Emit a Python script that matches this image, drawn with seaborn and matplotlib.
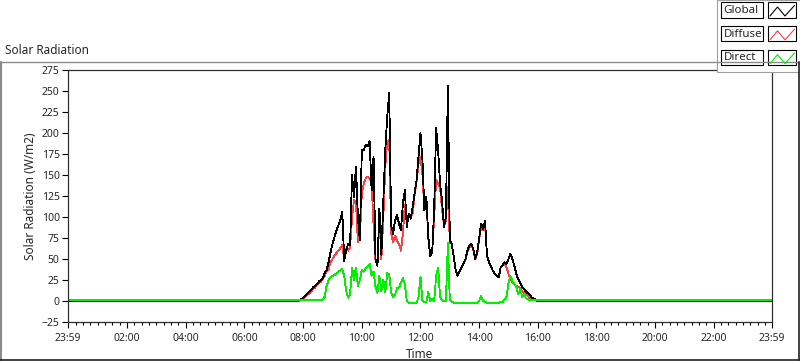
import numpy as np
import pandas as pd
import matplotlib
matplotlib.use("Agg")
import matplotlib.pyplot as plt
from matplotlib.patches import Rectangle
from matplotlib.lines import Line2D
import seaborn as sns

# ---------------- data ----------------
day_start_min = 464          # 07:44
step_min = 4
night_global = 0
night_diffuse = 0
night_direct = 1

global_rad = [0, 0, 1, 2, 4, 6, 8, 11, 13, 16,
              18, 20, 23, 25, 27, 33, 37, 46, 58, 68,
              76, 84, 90, 96, 106, 48, 60, 68, 66, 150,
              124, 160, 100, 72, 180, 180, 186, 184, 190, 132,
              172, 50, 42, 110, 55, 120, 180, 220, 248, 90,
              80, 96, 102, 92, 84, 116, 132, 88, 104, 98,
              112, 128, 144, 172, 200, 168, 108, 124, 76, 53,
              58, 110, 206, 180, 140, 120, 88, 100, 256, 72,
              68, 53, 36, 30, 35, 40, 45, 50, 60, 66,
              68, 62, 50, 58, 75, 92, 86, 95, 55, 46,
              42, 36, 32, 30, 28, 40, 43, 46, 44, 50,
              56, 50, 42, 32, 26, 21, 17, 14, 11, 9,
              7, 4, 3, 1, 0, 0, 0]

diffuse_rad = [0, 0, 0.5, 1, 3, 5, 7, 9, 11, 14,
               16, 19, 21, 23, 26, 30, 35, 38, 46, 50,
               54, 57, 60, 63, 67, 50, 62, 60, 64, 100,
               120, 118, 70, 75, 128, 140, 146, 148, 146, 140,
               90, 48, 45, 100, 50, 100, 160, 190, 192, 80,
               70, 78, 72, 68, 60, 80, 115, 100, 100, 100,
               105, 126, 142, 164, 172, 150, 108, 122, 74, 55,
               60, 100, 144, 140, 135, 110, 90, 95, 136, 69,
               68, 53, 36, 30, 35, 40, 45, 49, 58, 64,
               66, 61, 50, 56, 73, 88, 84, 92, 54, 46,
               42, 36, 32, 30, 28, 40, 42, 44, 40, 32,
               26, 22, 20, 18, 17, 15, 12, 10, 8, 6,
               4, 3, 2, 1, 0, 0, 0]

direct_rad = [1, 1, 1, 1, 1, 1, 1, 1, 1, 1,
              1, 1, 1, 1, 2, 5, 18, 25, 28, 30,
              31, 33, 35, 36, 38, 30, 12, 4, 8, 40,
              25, 40, 18, 25, 37, 35, 39, 41, 44, 30,
              35, 17, 10, 30, 12, 25, 10, 33, 32, 10,
              5, 8, 15, 16, 22, 27, 20, 0, -2, -2,
              -2, -2, -2, 5, 29, 0, -1, -1, 11, 0,
              3, 0, 30, 40, 5, 1, 0, 0, 69, 1,
              -1, -2, -2, -2, -2, -2, -2, -2, -2, -2,
              -2, -2, -2, -2, 0, 6, 0, -1, -2, -2,
              -2, -2, -2, -2, -2, -1, -1, 2, 5, 22,
              30, 24, 20, 17, 8, 14, 5, 9, 3, 2,
              1, 1, 1, 1, 1, 1, 1]

tick_labels = ["23:59", "02:00", "04:00", "06:00", "08:00", "10:00", "12:00",
               "14:00", "16:00", "18:00", "20:00", "22:00", "23:59"]
series_names = ["Global", "Diffuse", "Direct"]

# ---------------- build table ----------------
n = len(global_rad)
day_hours = (day_start_min + step_min * np.arange(n)) / 60.0
start_h = -1 / 60.0
end_h = 24 - 1 / 60.0
hours = np.concatenate([[start_h], day_hours, [end_h]])
df = pd.DataFrame({
    "hours": hours,
    "Global": np.concatenate([[night_global], global_rad, [night_global]]),
    "Diffuse": np.concatenate([[night_diffuse], diffuse_rad, [night_diffuse]]),
    "Direct": np.concatenate([[night_direct], direct_rad, [night_direct]]),
})

# ---------------- figure ----------------
sns.set_theme(style="white")
plt.rcParams['font.family'] = ['Noto Sans', 'DejaVu Sans']

W, H = 800, 361
fig = plt.figure(figsize=(W / 100, H / 100), dpi=100)
fig.patch.set_facecolor("white")

def fx(x):
    return x / W

def fy(y):
    return 1 - y / H

ax = fig.add_axes([fx(68), fy(322), (772 - 68) / W, (322 - 70) / H])
ax.set_facecolor("white")

colors = {"Global": "#000000", "Diffuse": "#ff4040", "Direct": "#00f000"}
for name in ["Diffuse", "Global", "Direct"]:
    sns.lineplot(data=df, x="hours", y=name, ax=ax, color=colors[name],
                 linewidth=0.6, antialiased=False, legend=False,
                 estimator=None, sort=True)

ax.set_xlim(start_h, end_h)
ax.set_ylim(-25, 275)
ax.set_yticks(np.arange(-25, 276, 25))
major_pos = [start_h] + list(range(2, 23, 2)) + [end_h]
ax.set_xticks(major_pos)
ax.set_xticklabels(tick_labels)
minor_pos = [q for q in np.arange(0.25, 23.9, 0.25) if abs(q / 2 - round(q / 2)) > 1e-6]
ax.set_xticks(minor_pos, minor=True)

ax.tick_params(axis="both", which="major", direction="out", length=4, width=0.8,
               color="black", labelsize=7.5, pad=2, bottom=True, left=True)
ax.tick_params(axis="x", which="minor", direction="out", length=2.5, width=0.8,
               color="black", bottom=True)
ax.tick_params(axis="x", pad=4)
for s in ax.spines.values():
    s.set_visible(True)
    s.set_color("#303030")
    s.set_linewidth(0.9)

ax.set_xlabel("Time", fontsize=8.5, labelpad=2.5)
ax.set_ylabel("Solar Radiation (W/m2)", fontsize=8.5, labelpad=3)
ax.grid(False)

# title above the frame
fig.text(fx(5), fy(50), "Solar Radiation", fontsize=8.5, ha="left", va="center")

# outer graph frame
fig.add_artist(Line2D([fx(0), fx(800)], [fy(61.5), fy(61.5)], color="#8a8a8a", lw=1.0))
fig.add_artist(Line2D([fx(1), fx(1)], [fy(61.5), fy(359.5)], color="#8a8a8a", lw=1.5))
fig.add_artist(Line2D([fx(0), fx(800)], [fy(359.5), fy(359.5)], color="#202020", lw=1.2))
fig.add_artist(Line2D([fx(799.3), fx(799.3)], [fy(61.5), fy(359.5)], color="#202020", lw=1.2))

# legend (LabVIEW style)
fig.add_artist(Rectangle((fx(717), fy(72)), (800 - 717) / W, 72 / H,
                         facecolor="white", edgecolor="#a0a0a0", lw=0.8))
for k, name in enumerate(series_names):
    y0 = 2 + k * 23.8
    h = 15.5
    fig.add_artist(Rectangle((fx(721), fy(y0 + h)), (763 - 721) / W, h / H,
                             facecolor="white", edgecolor="black", lw=0.8))
    fig.add_artist(Rectangle((fx(768), fy(y0 + h)), (796 - 768) / W, h / H,
                             facecolor="white", edgecolor="black", lw=0.8))
    fig.text(fx(723.5), fy(y0 + h / 2 + 0.5), name, fontsize=8.3, ha="left", va="center")
    zx = [770, 777.5, 785, 794.5]
    zy = [y0 + 14, y0 + 5, y0 + 14, y0 + 3.5]
    fig.add_artist(Line2D([fx(v) for v in zx], [fy(v) for v in zy],
                          color=colors[name], lw=0.8))

fig.savefig("out.png", dpi=100, facecolor="white")
